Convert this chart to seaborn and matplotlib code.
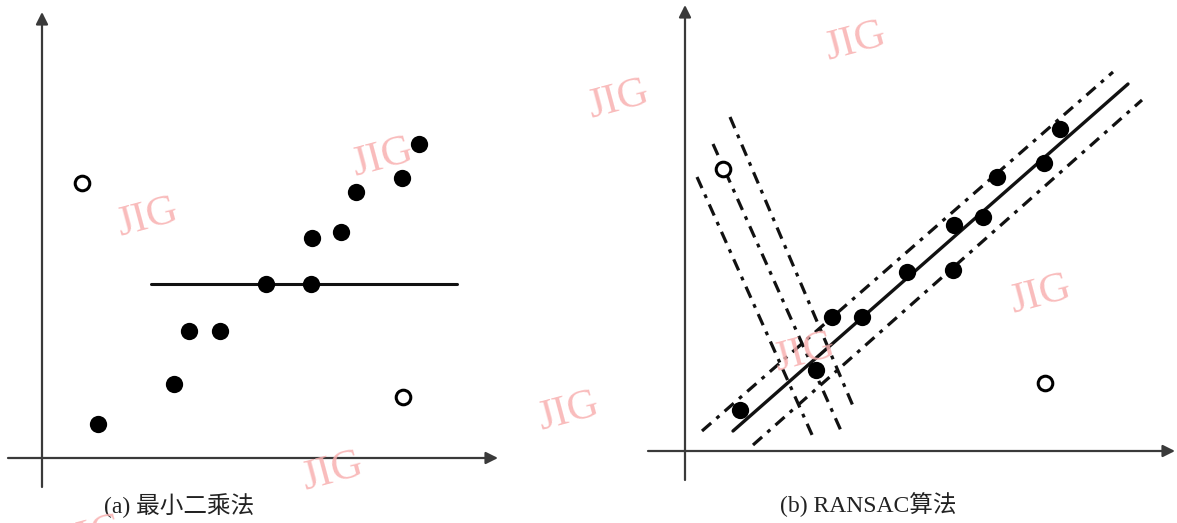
import matplotlib
matplotlib.use("Agg")
import matplotlib.pyplot as plt
import seaborn as sns

sns.set_theme(style="white")
plt.rcParams['font.family'] = ['Liberation Serif', 'Noto Sans CJK SC', 'DejaVu Sans']

# ---------------- data (units: origin at the axes crossing) ----------------
# panel (a) least squares
a_in_x = [56, 132, 147, 178, 224, 269, 270, 299, 314, 360, 377]
a_in_y = [34, 74, 127, 127, 174, 174, 220, 226, 266, 280, 314]
a_out_x = [40, 361]
a_out_y = [275, 61]
a_fit_x = [109, 415]
a_fit_y = [174, 174]

# panel (b) RANSAC
b_in_x = [55, 131, 147, 177, 222, 268, 269, 298, 312, 359, 375]
b_in_y = [41, 81, 134, 134, 179, 181, 226, 234, 274, 288, 322]
b_out_x = [38, 360]
b_out_y = [282, 68]
b_fit_x = [48, 443]
b_fit_y = [20, 367]
b_up_x = [17, 428]
b_up_y = [20, 379]
b_lo_x = [68, 457]
b_lo_y = [6, 351]
b_wrong_x = [[45, 168], [28, 157], [12, 128]]
b_wrong_y = [[334, 45], [307, 18], [274, 14]]

captions = ["(a) 最小二乘法", "(b) RANSAC算法"]
watermark = "JIG"

W, H = 1177, 523
fig = plt.figure(figsize=(W / 100, H / 100), dpi=100)
fig.patch.set_facecolor("white")

# axes placed so one data unit = one pixel
ax_a = fig.add_axes([0, 0, 520 / W, 1])
ax_a.set_xlim(-42, 478)
ax_a.set_ylim(458 - 523, 458)
ax_b = fig.add_axes([600 / W, 0, 577 / W, 1])
ax_b.set_xlim(-85, 492)
ax_b.set_ylim(451 - 523, 451)

for ax in (ax_a, ax_b):
    ax.set_axis_off()
    ax.patch.set_alpha(0)

axis_col = "#3a3a3a"


def draw_axes(ax, x0, x1, y0, y1):
    ap = dict(arrowstyle='-|>', mutation_scale=18, lw=1.6, color=axis_col,
              shrinkA=0, shrinkB=0)
    ax.annotate('', xy=(x1, 0), xytext=(x0, 0), arrowprops=ap)
    ax.annotate('', xy=(0, y1), xytext=(0, y0), arrowprops=ap)


draw_axes(ax_a, -34, 456, -29, 446)
draw_axes(ax_b, -37, 490, -29, 446)

# panel (a)
sns.lineplot(x=a_fit_x, y=a_fit_y, ax=ax_a, color="#111111", lw=2.2)
sns.scatterplot(x=a_in_x, y=a_in_y, ax=ax_a, color="black", s=155,
                linewidth=0, zorder=5)
sns.scatterplot(x=a_out_x, y=a_out_y, ax=ax_a, facecolor="white",
                edgecolor="black", s=110, linewidth=2.2, zorder=5)

# panel (b)
dashdot = (0, (3.8, 2.2, 1.2, 2.2))
for xs, ys in zip(b_wrong_x, b_wrong_y):
    ax_b.plot(xs, ys, color="#111111", lw=2.3, linestyle=dashdot)
sns.lineplot(x=b_up_x, y=b_up_y, ax=ax_b, color="#111111", lw=2.3, linestyle=dashdot)
sns.lineplot(x=b_lo_x, y=b_lo_y, ax=ax_b, color="#111111", lw=2.3, linestyle=dashdot)
sns.lineplot(x=b_fit_x, y=b_fit_y, ax=ax_b, color="#111111", lw=2.4)
sns.scatterplot(x=b_in_x, y=b_in_y, ax=ax_b, color="black", s=155,
                linewidth=0, zorder=5)
sns.scatterplot(x=b_out_x, y=b_out_y, ax=ax_b, facecolor="white",
                edgecolor="black", s=110, linewidth=2.2, zorder=5)

# captions
fig.text(179 / W, 1 - 506 / H, captions[0], ha="center", va="center",
         fontsize=17, color="#222222")
fig.text(868 / W, 1 - 505 / H, captions[1], ha="center", va="center",
         fontsize=17, color="#222222")

# watermarks
wm_pos = [(147, 218), (382, 158), (332, 472), (618, 100), (855, 42),
          (1040, 295), (804, 353), (568, 412), (92, 536)]
for px, py in wm_pos:
    fig.text(px / W, 1 - py / H, watermark, ha="center", va="center",
             fontsize=31, color="#f8b0b0", rotation=15, zorder=10, alpha=0.85)

fig.savefig("out.png", dpi=100, facecolor="white")
